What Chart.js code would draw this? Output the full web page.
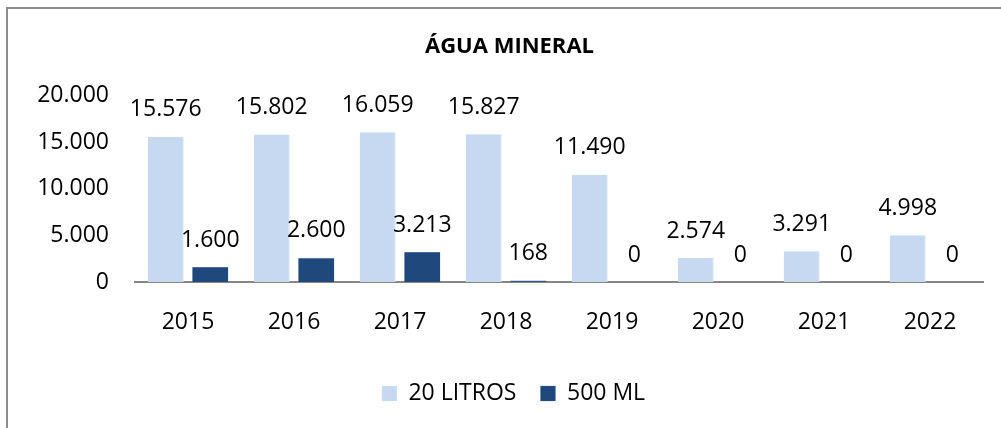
<!DOCTYPE html>
<html>
<head>
<meta charset="utf-8">
<script src="https://cdn.jsdelivr.net/npm/chart.js@4"></script>
<style>
  html, body { margin: 0; padding: 0; background: #fff; overflow: hidden; }
  #frame { position: absolute; left: 6px; top: 7px; width: 1100px; height: 500px; border: 2px solid #8c8c8c; }
  #wrap { position: absolute; left: 0; top: 0; width: 1001px; height: 428px; }
</style>
</head>
<body>
<div id="frame"></div>
<div id="wrap"><canvas id="chart"></canvas></div>
<script>
var years = ['2015', '2016', '2017', '2018', '2019', '2020', '2021', '2022'];
var litros20 = [15576, 15802, 16059, 15827, 11490, 2574, 3291, 4998];
var ml500 = [1600, 2600, 3213, 168, 0, 0, 0, 0];
var yTicks = [0, 5000, 10000, 15000, 20000];

var FONT = "'Open Sans', 'Noto Sans', sans-serif";

function fmt(n) {
  return String(n).replace(/\B(?=(\d{3})+(?!\d))/g, '.');
}

// value labels above every bar
var barLabels = {
  id: 'barLabels',
  afterDatasetsDraw: function(chart) {
    var ctx = chart.ctx;
    ctx.save();
    ctx.font = '23px ' + FONT;
    ctx.fillStyle = '#000';
    ctx.textAlign = 'center';
    ctx.textBaseline = 'middle';
    chart.data.datasets.forEach(function(ds, i) {
      chart.getDatasetMeta(i).data.forEach(function(bar, k) {
        ctx.fillText(fmt(ds.data[k]), bar.x, bar.y - 27);
      });
    });
    ctx.restore();
  }
};

// title and legend sit a bit right of the canvas centre in the original
var shiftBoxes = {
  id: 'shiftBoxes',
  afterLayout: function(chart) {
    chart.legend.left += 22;
    chart.legend.right += 22;
    chart.titleBlock.left += 18;
    chart.titleBlock.right += 18;
  }
};

new Chart(document.getElementById('chart'), {
  type: 'bar',
  data: {
    labels: years,
    datasets: [{
      label: '20 LITROS',
      data: litros20,
      backgroundColor: '#c6d9f1',
      borderColor: '#dde8f5',
      borderWidth: { right: 1 },
      categoryPercentage: 0.84,
      barPercentage: 0.81
    }, {
      label: '500 ML',
      data: ml500,
      backgroundColor: '#1f497d',
      borderColor: '#4a6c96',
      borderWidth: { top: 1 },
      categoryPercentage: 0.84,
      barPercentage: 0.81
    }]
  },
  options: {
    responsive: true,
    maintainAspectRatio: false,
    animation: false,
    layout: { padding: { left: 0, right: 18, top: 0, bottom: 13 } },
    plugins: {
      title: {
        display: true,
        text: 'ÁGUA MINERAL',
        color: '#000',
        font: { family: FONT, size: 22, weight: 'bold' },
        padding: { top: 34, bottom: 35 }
      },
      legend: {
        position: 'bottom',
        labels: {
          color: '#000',
          font: { family: FONT, size: 23 },
          boxWidth: 15,
          boxHeight: 15,
          padding: 24
        }
      },
      tooltip: { enabled: false }
    },
    scales: {
      x: {
        grid: { display: false, drawTicks: false },
        border: { color: '#868686', width: 2 },
        ticks: { color: '#000', font: { family: FONT, size: 23 }, padding: 27 },
        afterFit: function(scale) { scale.height = 76; }
      },
      y: {
        min: 0,
        max: 20000,
        grid: { display: false, drawTicks: false },
        border: { display: false },
        afterBuildTicks: function(scale) {
          scale.ticks = yTicks.map(function(v) { return { value: v }; });
        },
        ticks: {
          color: '#000',
          font: { family: FONT, size: 23 },
          padding: 26,
          callback: function(v) { return fmt(v); }
        },
        afterFit: function(scale) { scale.width = 135; }
      }
    }
  },
  plugins: [barLabels, shiftBoxes]
});
</script>
</body>
</html>
